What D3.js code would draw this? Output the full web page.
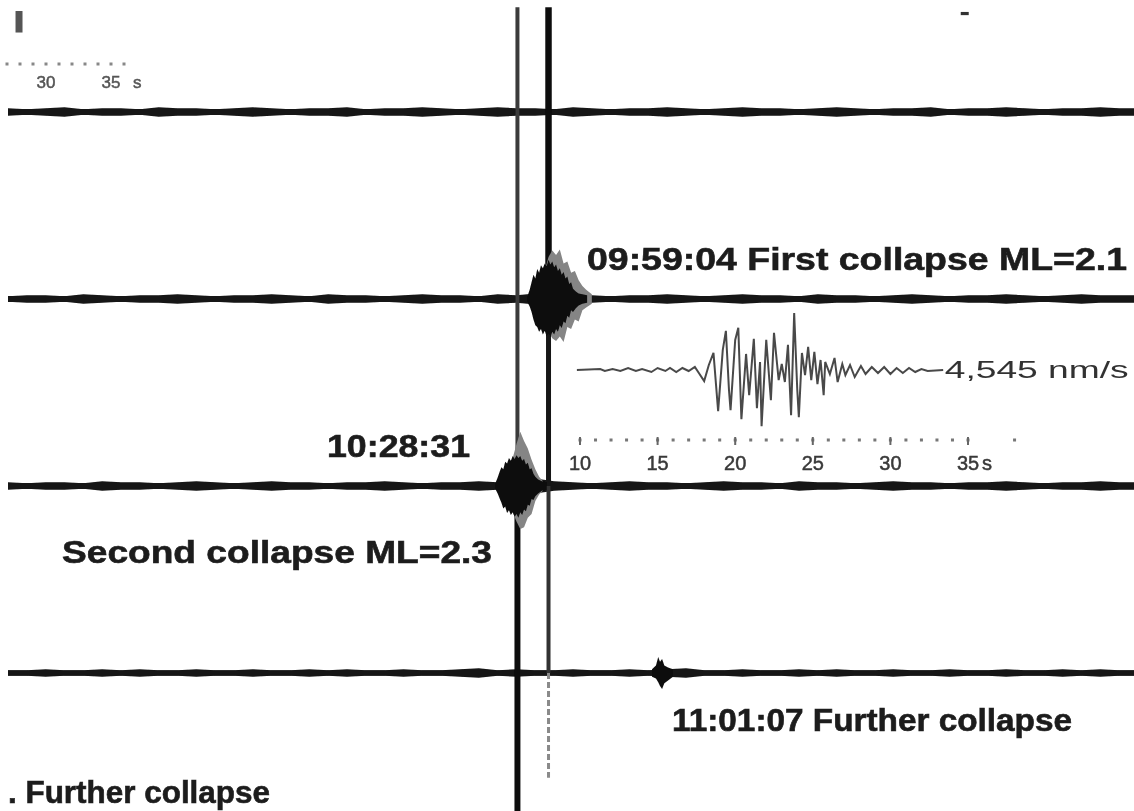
<!DOCTYPE html>
<html><head><meta charset="utf-8">
<script src="https://cdn.jsdelivr.net/npm/d3@7"></script>
<style>body{margin:0;background:#fff}svg{display:block}</style>
</head><body>
<svg id="c" width="1134" height="811"></svg>
<script>
// ---------- DATA ----------
// helicorder rows (30 min each, visible window ~20 min)
const rowStarts = ["09:19:30", "09:49:30", "10:19:30", "10:49:30"];
const noiseStep = 20; // seconds between envelope samples
const noiseRow1 = [4,3,4,5,3,4,4,3,5,4, 4,3,4,5,4,3,4,4,5,3, 4,4,5,4,3,4,5,4,4,3, 5,4,3,4,4,5,4,3,4,5, 4,4,3,4,5,4,3,4,4,5, 3,4,4,5,4,3,4,4,5,4, 4];
const noiseRow2 = [3,4,4,3,5,4,3,4,4,5, 4,3,4,4,5,4,3,5,4,4, 3,4,5,4,4,3,5,4,6,8, 6,4,3,4,4,5,4,3,4,5, 4,4,3,5,4,4,3,4,5,4, 3,4,4,5,4,3,4,5,4,4, 4];
const noiseRow3 = [4,3,4,4,3,5,4,4,3,4, 5,4,3,4,5,4,4,3,4,4, 5,4,3,4,4,5,4,6,8,5, 4,3,4,5,4,4,3,4,5,4, 4,3,5,4,4,3,4,5,4,4, 3,4,4,5,4,3,4,4,5,4, 4];
const noiseRow4 = [3,3,4,3,3,4,3,4,3,3, 4,3,3,4,3,3,4,3,4,3, 3,4,3,3,4,5,3,4,3,3, 4,3,3,4,3,4,5,3,3,4, 3,3,4,3,4,3,3,4,3,3, 4,3,3,4,3,3,4,3,4,3, 3];

// event envelopes: [seconds into row, amplitude up, amplitude down] (counts)
const firstRow = 2;
const firstCore = [[552,4,4],[554,10,8],[556,18,14],[558,26,22],[560,22,28],[562,32,30],[564,28,35],[566,36,32],[568,33,38],[570,38,34],[572,35,40],[574,42,37],[576,37,41],[578,40,35],[580,34,38],[582,37,32],[584,30,35],[586,33,28],[588,26,31],[590,29,24],[592,22,26],[594,24,18],[596,16,20],[598,18,12],[600,11,14],[603,8,10],[606,6,7],[610,5,5],[615,4,4]];
const firstHalo = [[566,6,6],[570,30,25],[574,45,35],[578,52,42],[582,47,45],[586,53,40],[590,38,46],[594,40,30],[598,28,32],[602,30,22],[606,20,24],[610,14,12],[614,10,9],[620,5,5]];
const secondRow = 3;
const secondCore = [[518,4,4],[520,9,8],[522,15,13],[524,20,18],[526,18,24],[528,26,22],[530,24,29],[532,30,26],[534,27,31],[536,32,28],[538,29,33],[540,33,30],[542,30,34],[544,32,28],[546,27,31],[548,29,25],[550,23,27],[552,25,20],[554,18,21],[556,19,14],[558,13,15],[560,10,11],[563,7,8],[567,5,5],[572,4,4]];
const secondHalo = [[532,6,6],[536,30,28],[540,45,38],[544,58,46],[548,48,44],[552,40,34],[556,28,30],[560,18,16],[564,10,9],[568,5,5]];
const furtherRow = 4;
const further = [[683.9,4,4],[688.1,8,6],[690.5,17,10],[692.4,12,14],[694.6,15,17],[697,8,11],[700.9,6,8],[706.2,4,4]];

// clipped overflow of the two big events: [event row, seconds into row, from row pos, to row pos]
const overflow = [
  [3, 541, 0.44, 3.0],
  [3, 541, 3.0, 4.75],
  [2, 574, 0.44, 2.0],
  [2, 574, 2.0, 3.0],
  [2, 574, 3.0, 4.0],
  [2, 574, 4.0, 4.56]
];
// fragments of the trace above the window: [seconds, from row pos, to row pos]
const fragments = [[11.7, 0.46, 0.575], [1016, 0.465, 0.482]];

// inset waveform of the first collapse: [s, nm/s]
const insetWave = [[9.8,0],[11.3,80],[11.6,-80],[12.1,80],[12.6,-80],[13.1,160],[13.6,-80],[14.0,80],[14.6,-160],[15.0,160],[15.5,-80],[15.8,160],[16.2,-160],[16.6,160],[17.0,-80],[17.4,240],[17.7,-320],[18.0,-880],[18.3,400],[18.6,1360],[18.9,-3280],[19.2,1600],[19.4,3120],[19.6,-1600],[19.7,-3200],[20.0,2400],[20.2,3360],[20.4,-3920],[20.7,1280],[20.9,-2000],[21.2,2480],[21.4,-3040],[21.6,640],[21.7,-4480],[22.0,2400],[22.3,-2400],[22.5,2960],[22.8,-800],[23.0,480],[23.2,-960],[23.4,2000],[23.6,-3600],[23.8,4545],[24.0,-1600],[24.1,-3760],[24.3,1360],[24.5,-400],[24.7,1840],[24.9,-800],[25.1,1440],[25.3,-1120],[25.5,800],[25.7,-2000],[25.8,640],[26.1,-320],[26.4,960],[26.6,-960],[26.9,480],[27.1,-400],[27.4,400],[27.7,-560],[28.1,320],[28.4,-320],[28.8,240],[29.2,-240],[29.6,240],[30.0,-320],[30.4,160],[30.8,-240],[31.2,160],[31.6,-160],[32.0,80],[32.4,-80],[33.4,0]];
const insetPeak = "4,545 nm/s";
const insetTicks = [10, 15, 20, 25, 30, 35];
const insetDots = [10,11,12,13,14,15,16,17,18,19,20,21,22,23,24,25,26,27,28,29,30,31,32,33,34,35,38];
const topTicks = [30, 35];
const topDots = [27,28,29,30,31,32,33,34,35,36];

const labels = [
  "09:59:04 First collapse ML=2.1",
  "10:28:31",
  "Second collapse ML=2.3",
  "11:01:07 Further collapse",
  ". Further collapse"
];

// ---------- DRAW ----------
const svg = d3.select("#c");
const defs = svg.append("defs");
defs.append("filter").attr("id","blur").attr("x","-5%").attr("y","-5%").attr("width","110%").attr("height","110%")
  .append("feGaussianBlur").attr("stdDeviation", 0.75);
const g = svg.append("g").attr("filter","url(#blur)");
const FONT = "'Liberation Sans', Arial, sans-serif";

const x = d3.scaleLinear().domain([0, 1200]).range([8, 1138]);
const yRow = d3.scaleLinear().domain([1, 4]).range([112, 673]);
const amp = d3.scaleLinear().domain([0, 100]).range([0, 93.5]);
const ink = "#141414";

// noise bands
[noiseRow1, noiseRow2, noiseRow3, noiseRow4].forEach((arr, i) => {
  const r = i + 1;
  const pts = arr.map((a, j) => [j * noiseStep, a]);
  const area = d3.area().x(d => x(d[0])).y0(d => yRow(r) + amp(d[1])).y1(d => yRow(r) - amp(d[1]));
  g.append("path").datum(pts).attr("d", area).attr("fill", ink);
  g.append("line").attr("x1", x(0)).attr("x2", x(1200)).attr("y1", yRow(r)).attr("y2", yRow(r))
    .attr("stroke", ink).attr("stroke-width", r === 4 ? 5 : 6);
});

// overflow lines
const ovStyle = [
  {w: 4, c: "#3a3a3a", d: null},
  {w: 6, c: "#111", d: null},
  {w: 6.5, c: "#111", d: null},
  {w: 5, c: "#181818", d: null},
  {w: 4, c: "#333", d: null},
  {w: 3, c: "#8a8a8a", d: "6,3"}
];
overflow.forEach((o, i) => {
  const s = ovStyle[i];
  g.append("line").attr("x1", x(o[1])).attr("x2", x(o[1])).attr("y1", yRow(o[2])).attr("y2", yRow(o[3]))
    .attr("stroke", s.c).attr("stroke-width", s.w).attr("stroke-dasharray", s.d);
});

// fragments
fragments.forEach((f, i) => {
  g.append("line").attr("x1", x(f[0])).attr("x2", x(f[0])).attr("y1", yRow(f[1])).attr("y2", yRow(f[2]))
    .attr("stroke", i === 0 ? "#555" : "#333").attr("stroke-width", i === 0 ? 7 : 8);
});

// event envelopes
function env(data, row, fill) {
  const area = d3.area().x(d => x(d[0])).y0(d => yRow(row) + amp(d[2])).y1(d => yRow(row) - amp(d[1]));
  g.append("path").datum(data).attr("d", area).attr("fill", fill);
}
env(firstHalo, firstRow, "#858585");
env(firstCore, firstRow, "#0d0d0d");
env(secondHalo, secondRow, "#858585");
env(secondCore, secondRow, "#0d0d0d");
env(further, furtherRow, "#111");

// inset waveform
const xi = d3.scaleLinear().domain([10, 35]).range([580, 968]);
const yi = d3.scaleLinear().domain([-4545, 4545]).range([427, 313]);
g.append("path").datum(insetWave)
  .attr("d", d3.line().x(d => xi(d[0])).y(d => yi(d[1])))
  .attr("fill", "none").attr("stroke", "#4a4a4a").attr("stroke-width", 2);
g.append("text").attr("x", xi(33.5)).attr("y", yi(0) + 8)
  .attr("font-family", FONT).attr("font-size", 24)
  .attr("textLength", 184).attr("lengthAdjust", "spacingAndGlyphs")
  .attr("fill", "#333").text(insetPeak);

// inset axis
const axY = 440;
g.selectAll(".idot").data(insetDots).join("rect")
  .attr("x", d => xi(d) - 1.5).attr("y", axY - 1.5).attr("width", 3).attr("height", 3).attr("fill", "#777");
g.selectAll(".itick").data(insetTicks).join("line")
  .attr("x1", d => xi(d)).attr("x2", d => xi(d)).attr("y1", axY - 3).attr("y2", axY + 5)
  .attr("stroke", "#666").attr("stroke-width", 2);
g.selectAll(".ilab").data(insetTicks).join("text")
  .attr("x", d => xi(d)).attr("y", axY + 30).attr("text-anchor", "middle")
  .attr("font-family", FONT).attr("font-size", 20)
  .attr("fill", "#3a3a3a").attr("stroke", "#3a3a3a").attr("stroke-width", 0.5).text(d => d);
g.append("text").attr("x", xi(35) + 14).attr("y", axY + 30)
  .attr("font-family", FONT).attr("font-size", 20)
  .attr("fill", "#3a3a3a").attr("stroke", "#3a3a3a").attr("stroke-width", 0.5).text("s");

// top-left axis fragment
const xt = d3.scaleLinear().domain([30, 35]).range([46, 111]);
const tY = 64;
g.selectAll(".tdot").data(topDots).join("rect")
  .attr("x", d => xt(d) - 1.5).attr("y", tY - 1.5).attr("width", 3).attr("height", 3).attr("fill", "#888");
g.selectAll(".tlab").data(topTicks).join("text")
  .attr("x", d => xt(d)).attr("y", tY + 24).attr("text-anchor", "middle")
  .attr("font-family", FONT).attr("font-size", 17)
  .attr("fill", "#555").attr("stroke", "#555").attr("stroke-width", 0.5).text(d => d);
g.append("text").attr("x", xt(35) + 22).attr("y", tY + 24)
  .attr("font-family", FONT).attr("font-size", 17)
  .attr("fill", "#555").attr("stroke", "#555").attr("stroke-width", 0.5).text("s");

// labels
const labPos = [
  {x: 587, y: 270, w: 540, fs: 32},
  {x: 327, y: 457, w: 143, fs: 32},
  {x: 62, y: 563, w: 430, fs: 32},
  {x: 672, y: 731, w: 400, fs: 31},
  {x: 8, y: 803, w: 262, fs: 31}
];
labels.forEach((t, i) => {
  const p = labPos[i];
  g.append("text").attr("x", p.x).attr("y", p.y)
    .attr("font-family", FONT).attr("font-weight", 700)
    .attr("font-size", p.fs).attr("textLength", p.w).attr("lengthAdjust", "spacingAndGlyphs")
    .attr("fill", "#1c1c1c").attr("stroke", "#1c1c1c").attr("stroke-width", 0.6).text(t);
});
</script>
</body></html>
